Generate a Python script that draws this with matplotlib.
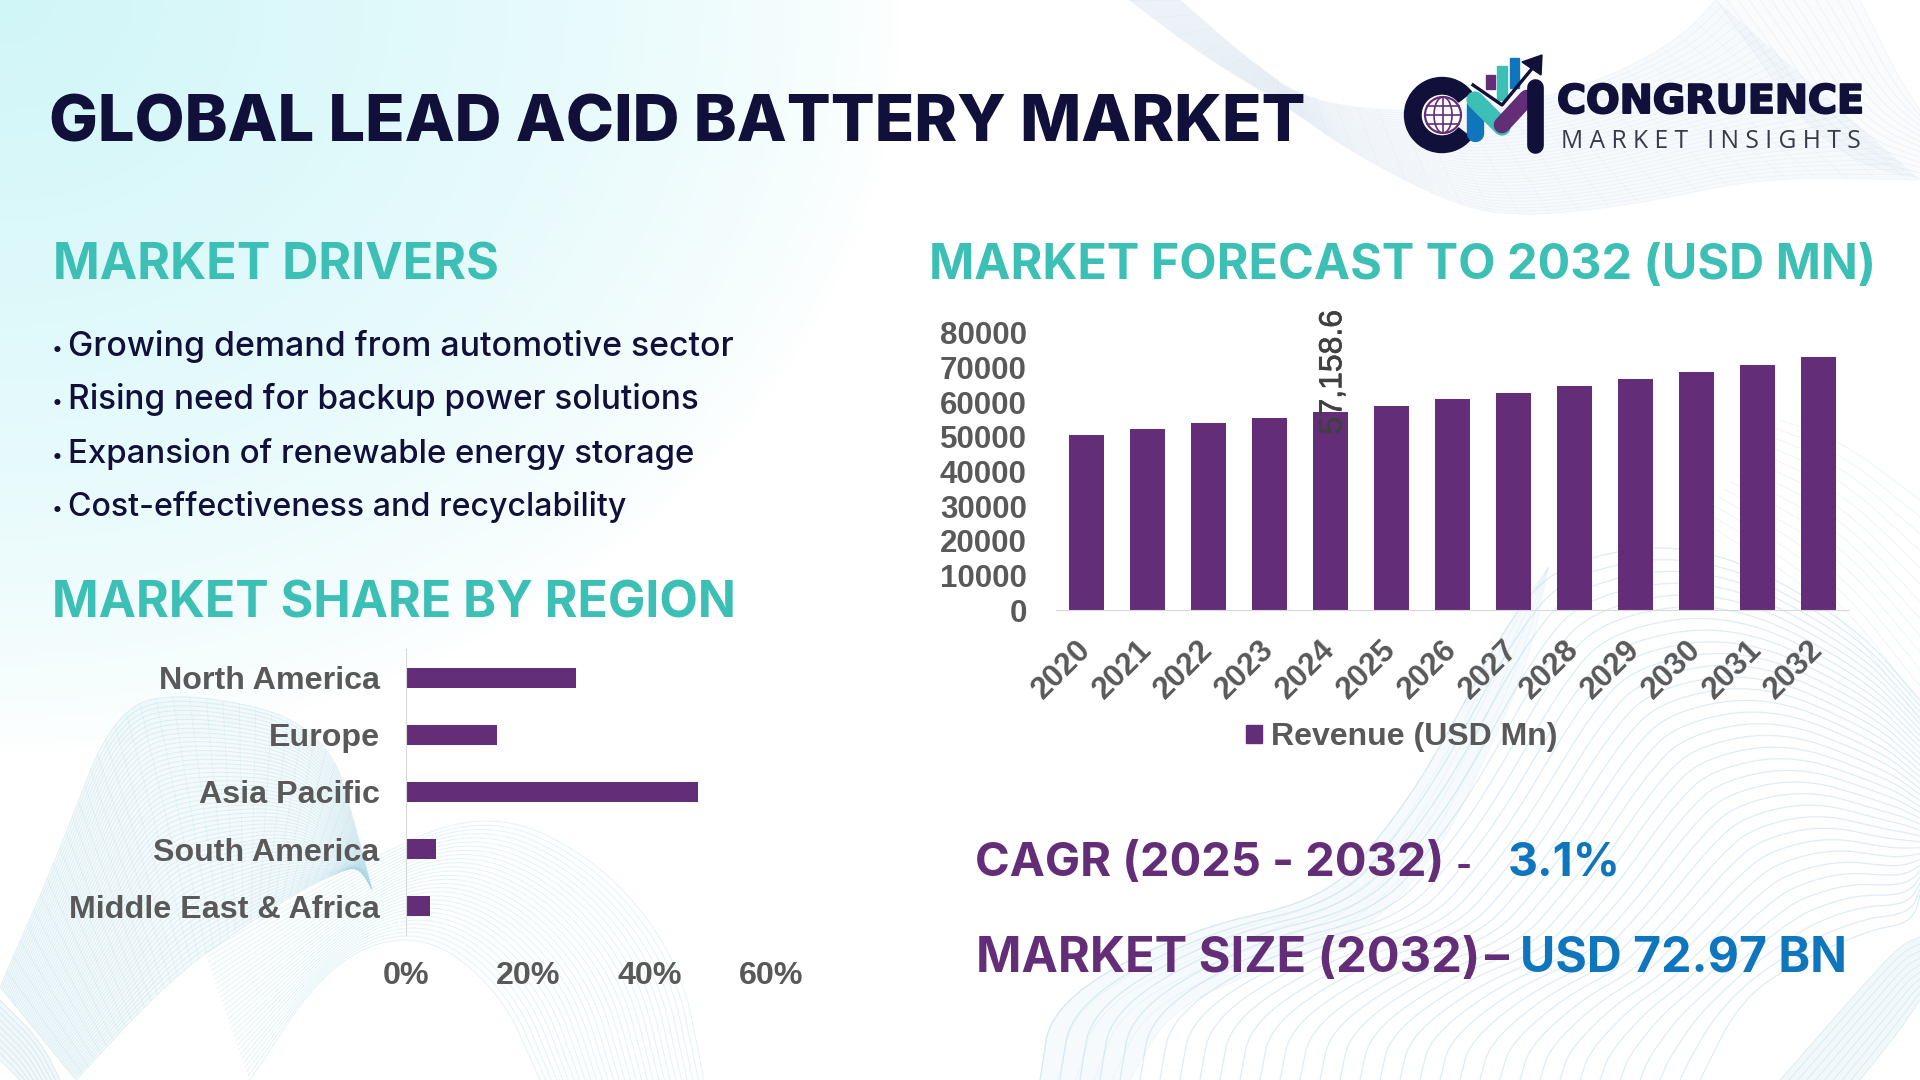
import numpy as np
import matplotlib
matplotlib.use("Agg")
import matplotlib.pyplot as plt
import matplotlib.patheffects as pe
from matplotlib.patches import Wedge, Circle, Ellipse, Polygon, Rectangle, Patch

years = ["2020", "2021", "2022", "2023", "2024", "2025", "2026",
         "2027", "2028", "2029", "2030", "2031", "2032"]
revenue = [50580, 52300, 54050, 55500, 57158.6, 58960, 60900,
           62800, 64700, 66700, 68800, 70900, 72970]
revenue_ticks = [0, 10000, 20000, 30000, 40000, 50000, 60000, 70000, 80000]

regions = ["North America", "Europe", "Asia Pacific", "South America", "Middle East & Africa"]
region_share = [28, 15, 48, 5, 4]
share_ticks = [0, 20, 40, 60]

drivers = ["Growing demand from automotive sector",
           "Rising need for backup power solutions",
           "Expansion of renewable energy storage",
           "Cost-effectiveness and recyclability"]

NAVY = "#10103A"
TEAL = "#3CBFB4"
PURPLE = "#642D78"
BLUE = "#0F75BC"
GREY = "#595959"
HEAD_FONT = "Inter"
W, H = 1920, 1080

fig = plt.figure(figsize=(19.2, 10.8), dpi=100, facecolor="white")
canvas = fig.add_axes([0, 0, 1, 1])
canvas.set_xlim(0, W)
canvas.set_ylim(H, 0)
canvas.axis("off")
renderer = fig.canvas.get_renderer()


def fit_text(x, y, s, right, color, family=HEAD_FONT, weight="bold", size=40, va="baseline"):
    # scale the font so the string ends at pixel x = right
    t = canvas.text(x, y, s, color=color, family=family, fontweight=weight, fontsize=size, va=va, zorder=5)
    w = t.get_window_extent(renderer).width
    t.set_fontsize(size * (right - x) / w)
    return t


def smooth(points, n=200):
    # Chaikin corner cutting, then resample so curves can be blended
    p = np.array(points, dtype=float)
    for _ in range(4):
        q = 0.75 * p[:-1] + 0.25 * p[1:]
        r = 0.25 * p[:-1] + 0.75 * p[1:]
        p = np.vstack([p[0], np.column_stack([q, r]).reshape(-1, 2), p[-1]])
    d = np.r_[0, np.cumsum(np.hypot(*np.diff(p, axis=0).T))]
    s = np.linspace(0, d[-1], n)
    return np.column_stack([np.interp(s, d, p[:, 0]), np.interp(s, d, p[:, 1])])


def ribbon(outer, inner, n, color, alpha, lw=0.7, fill=0.0, mesh=0):
    a, b = smooth(outer), smooth(inner)
    for t in np.linspace(0, 1, n):
        c = (1 - t) * a + t * b
        canvas.plot(c[:, 0], c[:, 1], color=color, alpha=alpha, lw=lw, zorder=1)
    if fill:
        canvas.fill(np.r_[a[:, 0], b[::-1, 0]], np.r_[a[:, 1], b[::-1, 1]], color=color, alpha=fill, lw=0, zorder=1)
    if mesh:
        for i in range(0, len(a), mesh):
            canvas.plot([a[i, 0], b[i, 0]], [a[i, 1], b[i, 1]], color=color, alpha=alpha * 0.6, lw=lw, zorder=1)


# -- background wash --
yy, xx = np.mgrid[0:H:4, 0:W:4]
d = np.sqrt((xx / 900.0) ** 2 + (yy / 750.0) ** 2)
fade = np.clip(1 - d, 0, 1) ** 0.7
rgb = np.ones(xx.shape + (3,))
for i, c in enumerate((0.82, 0.965, 0.975)):
    rgb[..., i] = 1 - (1 - c) * fade
canvas.imshow(rgb, extent=(0, W, H, 0), aspect="auto", zorder=0)
canvas.set_xlim(0, W)
canvas.set_ylim(H, 0)

# -- background swirls --
ribbon([(1129, 0), (1205, 57), (1282, 103), (1352, 153), (1458, 207), (1528, 217),
        (1645, 203), (1763, 177), (1920, 180)],
       [(1180, 0), (1245, 57), (1315, 107), (1470, 113), (1587, 87), (1675, 43), (1716, 0)],
       34, "#C5D8EA", 0.2, fill=0.12, mesh=7)
ribbon([(1716, 0), (1760, 60), (1800, 120), (1860, 165), (1920, 178)],
       [(1860, 0), (1880, 40), (1900, 80), (1920, 110)], 14, "#C5D8EA", 0.2, fill=0.1)
ribbon([(0, 987), (60, 850), (112, 713), (178, 690), (326, 723), (362, 850), (372, 890)],
       [(76, 1080), (150, 1000), (204, 953), (300, 890), (345, 870), (355, 867), (362, 870)],
       56, "#A9D6E3", 0.3, fill=0.12, mesh=5)
ribbon([(205, 953), (352, 867), (485, 807), (600, 860), (680, 960), (704, 1080)],
       [(250, 1080), (330, 960), (420, 930), (500, 990), (540, 1080)],
       30, "#BFE6EA", 0.45)
ribbon([(0, 1000), (40, 1040), (60, 1080)], [(0, 1060), (10, 1070), (20, 1080)], 10, "#A9D6E3", 0.4, fill=0.15)
ribbon([(1040, 1080), (1052, 1002), (1186, 930), (1327, 899), (1389, 826), (1437, 754),
        (1505, 626), (1560, 560), (1700, 540), (1850, 620), (1920, 700)],
       [(1700, 1080), (1740, 1000), (1800, 960), (1870, 930), (1900, 925), (1915, 915), (1920, 895)],
       34, "#B5D8E9", 0.45, lw=0.9)
ribbon([(1040, 1080), (1052, 1002), (1186, 930), (1327, 899), (1389, 826), (1437, 754), (1505, 626), (1548, 568)],
       [(1130, 1080), (1170, 1010), (1260, 970), (1370, 930), (1440, 850), (1480, 770), (1530, 660), (1548, 568)],
       6, "#B5D8E9", 0.15, fill=0.12)
ribbon([(1780, 1080), (1850, 1000), (1900, 945), (1920, 937)], [(1860, 1080), (1900, 1030), (1920, 1000)],
       10, "#A9D6E3", 0.35, fill=0.15)
ribbon([(1780, 420), (1840, 440), (1920, 500)], [(1700, 520), (1830, 600), (1920, 720)],
       14, "#C8E4EE", 0.35)

# -- headings --
fit_text(49, 141, "GLOBAL LEAD ACID BATTERY MARKET", 1305, NAVY, weight="extra bold")
fit_text(53, 279, "MARKET DRIVERS", 499, TEAL)
fit_text(52, 618, "MARKET SHARE BY REGION", 736, TEAL)
fit_text(929, 279, "MARKET FORECAST TO 2032 (USD MN)", 1875, TEAL)

# -- drivers --
for label, base, end in zip(drivers, [356, 409, 463, 516], [732, 699, 695, 626]):
    canvas.text(52, base - 1, "•", color=NAVY, family=HEAD_FONT, fontsize=14, zorder=5)
    fit_text(68, base, label, end, NAVY, weight="medium")

# -- key figures --
fit_text(975, 876, "CAGR (2025 - 2032)", 1444, PURPLE)
fit_text(1456, 876, "-", 1472, PURPLE)
fit_text(1508, 875, "3.1%", 1621, BLUE)
fit_text(976, 972, "MARKET SIZE (2032)", 1480, PURPLE)
fit_text(1485, 972, "–", 1509, PURPLE)
fit_text(1520, 972, "USD 72.97 BN", 1847, BLUE)

# -- logo --
canvas.add_patch(Wedge((1442, 115), 37.5, 38, 322, width=16.5, color=NAVY, zorder=3))
canvas.add_patch(Circle((1443, 115), 21, fc="white", ec="none", zorder=2.9))
canvas.add_patch(Circle((1443, 115), 18, fill=False, ec=PURPLE, lw=1.6, zorder=3))
canvas.add_patch(Ellipse((1443, 115), 18, 36, fill=False, ec=PURPLE, lw=1.2, zorder=3))
canvas.plot([1443, 1443], [97, 133], color=PURPLE, lw=1.2, zorder=3)
for gy, half in [(106, 16), (115, 18), (124, 16)]:
    canvas.plot([1443 - half, 1443 + half], [gy, gy], color=PURPLE, lw=1.2, zorder=3)
canvas.add_patch(Rectangle((1486, 75), 9, 14, color=PURPLE, zorder=3))
canvas.add_patch(Rectangle((1497, 66), 10, 34, color=TEAL, zorder=3))
canvas.add_patch(Rectangle((1510, 58), 9, 30, color=BLUE, zorder=3))
canvas.plot([1475, 1475], [104, 133], color=BLUE, lw=12.5, solid_capstyle="round", zorder=3)
canvas.plot([1475, 1502], [100, 127], color=TEAL, lw=12.5, solid_capstyle="round", zorder=3.1)
canvas.plot([1502, 1527], [125, 98], color=PURPLE, lw=12, solid_capstyle="round", zorder=3.2)
canvas.plot([1535, 1535], [87, 145], color=NAVY, lw=12, solid_capstyle="round", zorder=3.3)
canvas.plot([1473, 1502, 1535], [85, 105, 65], color=NAVY, lw=2.4, zorder=3.4)
canvas.add_patch(Polygon([(1522, 62), (1542, 55), (1541, 75)], color=NAVY, zorder=3.4))
brand = fit_text(1557, 113, "CONGRUENCE", 1864, NAVY, family="DejaVu Sans")
brand.set_path_effects([pe.withStroke(linewidth=1.4, foreground=NAVY)])
fit_text(1561, 148, "M A R K E T   I N S I G H T S", 1860, "#3A3A48", family="Open Sans", weight="normal")


# -- revenue chart --
ax = fig.add_axes([1056 / W, 1 - 610 / H, 793 / W, 277 / H], facecolor="none")
pos = np.arange(len(years))
ax.bar(pos, revenue, width=0.575, color=PURPLE)
ax.set_xlim(-0.5, len(years) - 0.5)
ax.set_ylim(0, 80000)
ax.set_yticks(revenue_ticks)
ax.set_xticks(pos, years)
ax.tick_params(length=0)
ax.tick_params(axis="y", pad=21)
ax.tick_params(axis="x", pad=25)
for t in ax.get_xticklabels():
    t.set(rotation=45, ha="right", rotation_mode="anchor", va="center")
for t in ax.get_xticklabels() + ax.get_yticklabels():
    t.set(family="Liberation Sans", fontweight="bold", fontsize=22.5, color=GREY)
for side in ["top", "left", "right"]:
    ax.spines[side].set_visible(False)
ax.spines["bottom"].set_color("#D9D9D9")
value_label = ax.annotate(f"{revenue[4]:,.1f}", xy=(pos[4], revenue[4]), xytext=(2, -16), textcoords="offset points",
                          rotation=90, ha="center", va="bottom", family="Liberation Sans", fontsize=23, color="#404040")
value_label.set_path_effects([pe.withStroke(linewidth=0.5, foreground="#404040")])
leg = ax.legend(handles=[Patch(color=PURPLE, label="Revenue (USD Mn)")], loc="center",
                bbox_to_anchor=(0.436, -0.46), frameon=False,
                handlelength=0.5, handleheight=0.5, handletextpad=0.27,
                prop={"family": "Liberation Sans", "weight": "bold", "size": 23})
for t in leg.get_texts():
    t.set_color(GREY)

# -- region chart --
ax2 = fig.add_axes([406 / W, 1 - 935 / H, 365 / W, 286 / H], facecolor="none")
ypos = np.arange(len(regions))
ax2.barh(ypos, region_share, height=0.35, color=PURPLE)
ax2.set_xlim(0, 60)
ax2.set_ylim(len(regions) - 0.5, -0.5)
ax2.set_xticks(share_ticks, [f"{v}%" for v in share_ticks])
ax2.set_yticks(ypos, regions)
ax2.tick_params(length=0)
ax2.tick_params(axis="y", pad=19)
ax2.tick_params(axis="x", pad=19)
for t in ax2.get_xticklabels() + ax2.get_yticklabels():
    t.set(family="Liberation Sans", fontweight="bold", fontsize=23.2, color=GREY)
for side in ["top", "bottom", "right"]:
    ax2.spines[side].set_visible(False)
ax2.spines["left"].set_color("#D9D9D9")

fig.savefig("out.png", dpi=100)
